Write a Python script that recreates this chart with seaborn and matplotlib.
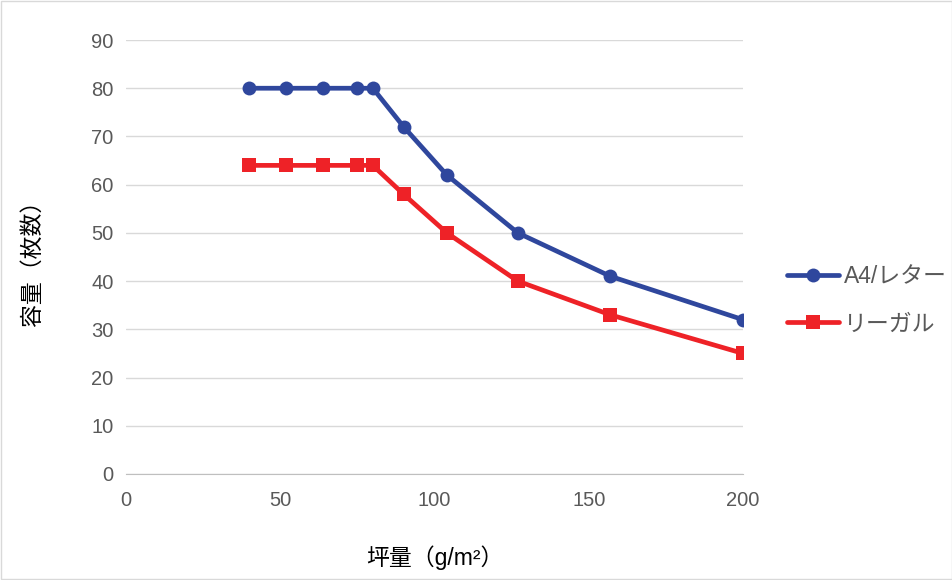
import pandas as pd
import seaborn as sns
import matplotlib.pyplot as plt
from matplotlib.patches import Rectangle

# data
weight = [40, 52, 64, 75, 80, 90, 104, 127, 157, 200]
a4_letter = [80, 80, 80, 80, 80, 72, 62, 50, 41, 32]
legal = [64, 64, 64, 64, 64, 58, 50, 40, 33, 25]
series_names = ['A4/レター', 'リーガル']

df = pd.DataFrame({
    'weight': weight * 2,
    'count': a4_letter + legal,
    'paper': [series_names[0]] * len(weight) + [series_names[1]] * len(weight),
})

sns.set_style('white')
plt.rcParams['font.family'] = ['Liberation Sans', 'Noto Sans CJK JP', 'DejaVu Sans']

fig = plt.figure(figsize=(9.53, 5.8), dpi=100)
ax = fig.add_axes([0.1322, 0.1828, 0.7797 - 0.1322, 0.931 - 0.1828])

sns.lineplot(data=df, x='weight', y='count', hue='paper', style='paper',
             palette=['#2F479D', '#EE2227'], markers=['o', 's'], dashes=False,
             linewidth=3.4, markersize=10, markeredgewidth=0, ax=ax)

ax.set_xlim(0, 200)
ax.set_ylim(0, 90)
ax.set_xticks(range(0, 201, 50))
ax.set_yticks(range(0, 91, 10))
ax.grid(axis='y', color='#D9D9D9', linewidth=1)
ax.set_axisbelow(True)
for s in ['top', 'right', 'left']:
    ax.spines[s].set_visible(False)
ax.spines['bottom'].set_color('#BFBFBF')
ax.tick_params(axis='y', labelsize=14.5, labelcolor='#595959', length=0, pad=9)
ax.tick_params(axis='x', labelsize=14.5, labelcolor='#595959', length=0, pad=12)

ax.set_xlabel('坪量（g/m²）', fontsize=16.5, color='#000000', labelpad=26)
ax.set_ylabel('容量（枚数）', fontsize=16.5, color='#000000', labelpad=34)

leg = ax.legend(loc='center left', bbox_to_anchor=(1.037, 0.40), frameon=False,
                fontsize=16.5, handlelength=2.3, labelspacing=1.05,
                handletextpad=0.2, borderaxespad=0.5)
for t in leg.get_texts():
    t.set_color('#595959')

fig.patches.append(Rectangle((0.001, 0.001), 0.998, 0.998, transform=fig.transFigure,
                             fill=False, edgecolor='#D9D9D9', linewidth=1))

fig.savefig('out.png', dpi=100)
